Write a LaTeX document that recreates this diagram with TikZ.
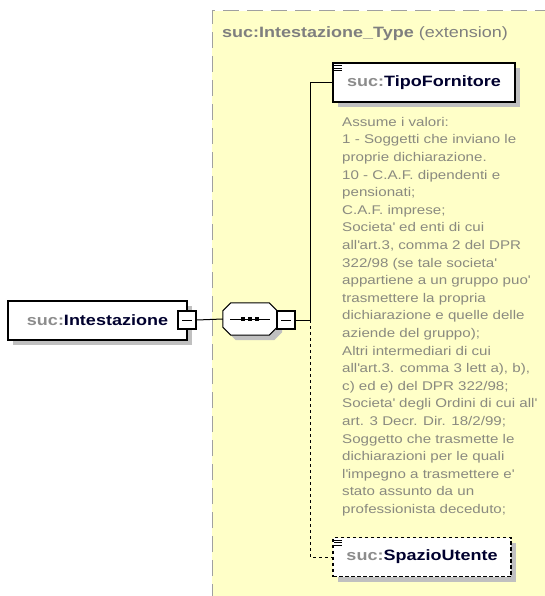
\documentclass[tikz,border=0pt]{standalone}
\usepackage{fontspec}
\setmainfont[FakeStretch=1.2]{Liberation Sans}
\usetikzlibrary{shadows}

\definecolor{typeyellow}{HTML}{FFFFC8}
\definecolor{typeborder}{HTML}{A0A0A0}
\definecolor{titlegray}{HTML}{7F7F7F}
\definecolor{shadowgray}{HTML}{C0C0C0}
\definecolor{prefixgray}{HTML}{8C8C8C}
\definecolor{namenavy}{HTML}{00002E}
\definecolor{notegray}{HTML}{8A8A80}

\newcommand{\sucname}[1]{\textcolor{prefixgray}{suc:}\textcolor{namenavy}{#1}}
\newcommand{\apos}{\textquotesingle}

\tikzset{
  boxshadow/.style={drop shadow={shadow xshift=5pt, shadow yshift=-5pt, fill=shadowgray, opacity=1}},
  elembox/.style={draw, fill=white, line width=1.1pt, minimum height=39pt, inner sep=0pt,
    font=\fontsize{15}{18}\selectfont\bfseries, boxshadow},
  optbox/.style={elembox, dash pattern=on 3.5pt off 2.5pt},
  minusbox/.style={draw, fill=white, line width=1.5pt, minimum size=18pt, inner sep=0pt,
    path picture={\draw[line width=1pt] ([xshift=4pt]path picture bounding box.west)
      -- ([xshift=-4pt]path picture bounding box.east);}},
  seqbox/.style={minimum width=54pt, minimum height=32pt, inner sep=0pt},
  wire/.style={line width=1pt}
}

\begin{document}
\begin{tikzpicture}[x=1pt, y=-1pt]
    \useasboundingbox (0,0) rectangle (544,596);

    % Type area
    \fill[typeyellow] (212,11) rectangle (550,600);
    \draw[typeborder, line width=1pt, dash pattern=on 16pt off 8pt] (212,600) -- (212,11) -- (550,11);
    \node[anchor=west, inner sep=0pt, text=titlegray, font=\fontsize{15}{18}\selectfont] (typetitle) at (222,34)
        {\textbf{suc:Intestazione\_Type} (extension)};

    % Root element
    \node[elembox, minimum width=179pt] (intest) at (97.5,320.5) {\sucname{Intestazione}\hspace{5pt}};
    \node[minusbox] (intestminus) at (187,320) {};

    % Sequence
    \node[seqbox] (seq) at (250,319) {};
    \draw[fill=white, line width=1pt, boxshadow]
        ([xshift=8pt]seq.north west) -- ([xshift=-8pt]seq.north east) -- ([yshift=-8pt]seq.north east)
        -- ([yshift=8pt]seq.south east) -- ([xshift=-8pt]seq.south east) -- ([xshift=8pt]seq.south west)
        -- ([yshift=8pt]seq.south west) -- ([yshift=-8pt]seq.north west) -- cycle;
    \node[minusbox] (seqminus) at (286,320) {};
    \draw[line width=1pt] ([xshift=-20pt]seq.center) -- ([xshift=20pt]seq.center);
    \foreach \dx in {-7,0,7}
        \fill ([shift={(\dx-2,-2)}]seq.center) rectangle ++(4,4);

    % Child elements
    \node[elembox, minimum width=182pt] (tipo) at (424,82.5) {\sucname{TipoFornitore}};
    \node[optbox, minimum width=178pt] (spazio) at (422,557) {\sucname{SpazioUtente}};
    \foreach \n in {tipo,spazio}
        \foreach \dy in {3,5.5,8}
            \draw[line width=0.8pt] ([shift={(2,\dy)}]\n.north west) -- ++(8,0);

    % Annotation
    \node[anchor=north west, inner sep=0pt, align=left, text=notegray,
          font=\fontsize{12.6}{17.6}\selectfont] (tiponote) at (342,117)
        {Assume i valori:\\
         1 - Soggetti che inviano le\\
         proprie dichiarazione.\\
         10 - C.A.F. dipendenti e\\
         pensionati;\\
         C.A.F. imprese;\\
         Societa\apos{} ed enti di cui\\
         all\apos{}art.3, comma 2 del DPR\\
         322/98 (se tale societa\apos\\
         appartiene a un gruppo puo\apos\\
         trasmettere la propria\\
         dichiarazione e quelle delle\\
         aziende del gruppo);\\
         Altri intermediari di cui\\
         all\apos{}art.3. comma 3 lett a), b),\\
         c) ed e) del DPR 322/98;\\
         Societa\apos{} degli Ordini di cui all\apos\\
         art. 3 Decr. Dir. 18/2/99;\\
         Soggetto che trasmette le\\
         dichiarazioni per le quali\\
         l\apos{}impegno a trasmettere e\apos\\
         stato assunto da un\\
         professionista deceduto;};

    % Connectors
    \coordinate (branch) at (310,320);
    \draw[wire] (intestminus.east) -- (seq.west);
    \draw[wire] (seqminus.east) -- (branch);
    \draw[wire] (branch) |- (tipo.west);
    \draw[wire, dash pattern=on 3pt off 3pt] (branch) |- (spazio.west);
\end{tikzpicture}
\end{document}
